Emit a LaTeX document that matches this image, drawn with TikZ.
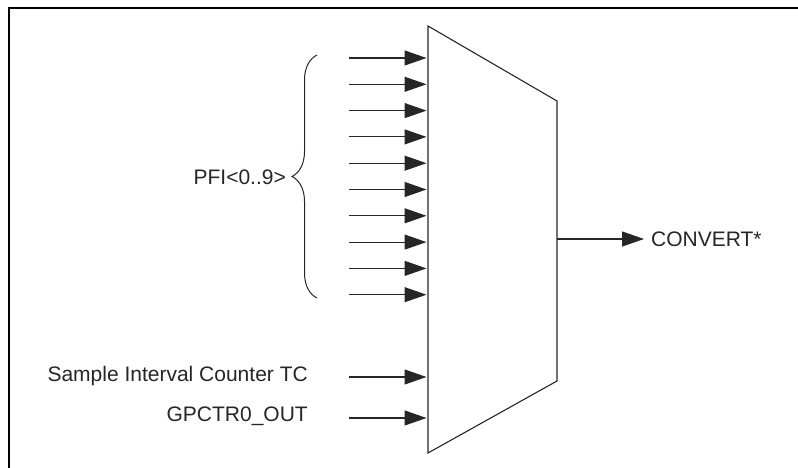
\documentclass[tikz,border=0pt]{standalone}
\usepackage{fontspec}
\setmainfont{Liberation Sans}
\usetikzlibrary{arrows.meta,decorations.pathreplacing}

\begin{document}
\begin{tikzpicture}[x=1pt,y=-1pt,
    sig/.style={draw=black!85, line width=1.1pt, shorten >=1.5pt,
                -{Triangle[length=22pt,width=15pt]}},
    lbl/.style={font=\fontsize{21}{25}\selectfont, text=black!85, inner sep=0pt}]
  \useasboundingbox (0,0) rectangle (798,468);
  \draw [line width=2.6pt] (9,480) -- (9,8) -- (810,8);
  % multiplexer
  \coordinate (mtl) at (428,26);
  \coordinate (mtr) at (557,101);
  \coordinate (mbr) at (557,381);
  \coordinate (mbl) at (428,453);
  \draw [line width=1.1pt, black!85] (mtl) -- (mtr) -- (mbr) -- (mbl) -- cycle;
  % PFI inputs
  \foreach \i in {0,...,9} {
    \coordinate (pfi\i) at (349,58+26.3*\i);
    \draw [sig] (pfi\i) -- (pfi\i -| mtl);
  }
  \coordinate (brtop) at (317,55);
  \coordinate (brbot) at (317,298);
  \draw [line width=1pt, black!85, decorate, decoration={brace, amplitude=25pt}]
        (brbot) -- (brtop);
  \node [lbl, anchor=east] (pfilbl) at (286,177) {PFI<0..9>};
  % other inputs
  \coordinate (sic) at (349,377);
  \coordinate (gpc) at (349,418);
  \draw [sig] (sic) -- (sic -| mtl);
  \draw [sig] (gpc) -- (gpc -| mtl);
  \node [lbl, anchor=east] (siclbl) at (308,376) {Sample Interval Counter TC};
  \node [lbl, anchor=east] (gpclbl) at (308,416) {GPCTR0\_OUT};
  % output
  \coordinate (mout) at (557,239);
  \node [lbl, anchor=west] (cnv) at (651,239) {CONVERT*};
  \draw [sig, shorten >=7pt] (mout) -- (cnv.west);
\end{tikzpicture}
\end{document}
